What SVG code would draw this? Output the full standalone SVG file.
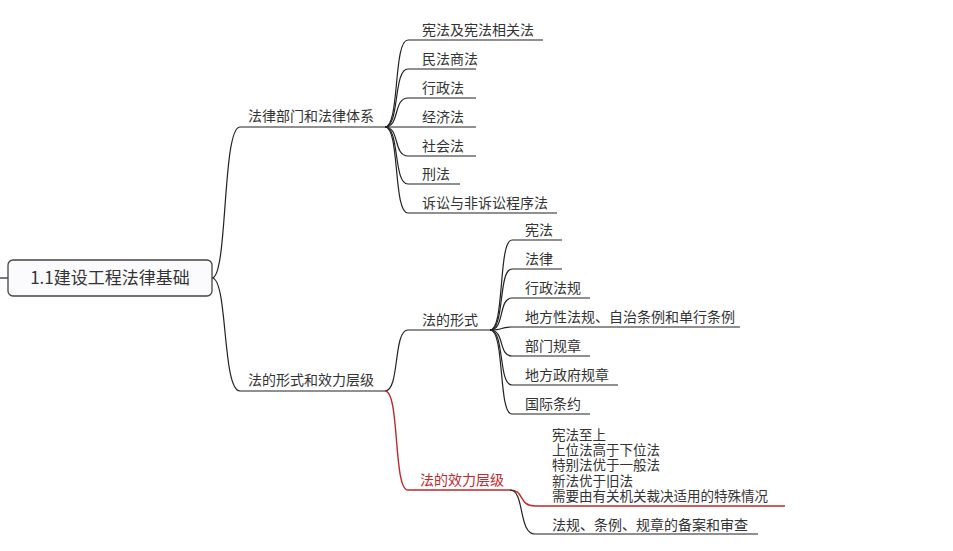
<svg xmlns="http://www.w3.org/2000/svg" width="953" height="551" viewBox="0 0 953 551">
<style>
text{font-family:"Noto Sans CJK SC","Liberation Serif",serif;font-size:14px;fill:#333}
.t{font-size:13.5px}
.c{fill:none;stroke:#222;stroke-width:1.2}
.r{fill:none;stroke:#c0282c;stroke-width:1.4}
</style>
<rect width="953" height="551" fill="#fff"/>
<g id="connectors">
<path class="c" d="M0 278H8"/>
<path class="c" d="M212 278C228 278 222 127 240 127H385"/>
<path class="c" d="M212 278C228 278 222 391 240 391H385"/>
<g id="b1">
<path class="c" d="M385 127C400 127 393 40 408 40H543"/>
<path class="c" d="M385 127C400 127 393 69 408 69H476"/>
<path class="c" d="M385 127C400 127 393 98 408 98H476"/>
<path class="c" d="M385 127H476"/>
<path class="c" d="M385 127C400 127 393 156 408 156H476"/>
<path class="c" d="M385 127C400 127 393 184 408 184H460"/>
<path class="c" d="M385 127C400 127 393 213 408 213H557"/>
</g>
<path class="c" d="M385 391C400 391 393 330 408 330H490"/>
<path class="r" d="M385 391C400 391 393 490 408 490H510"/>
<g id="b2">
<path class="c" d="M490 330C505 330 498 240 512 240H562"/>
<path class="c" d="M490 330C505 330 498 269 512 269H562"/>
<path class="c" d="M490 330C505 330 498 298 512 298H590"/>
<path class="c" d="M490 330C505 330 498 327 512 327H740"/>
<path class="c" d="M490 330C505 330 498 356 512 356H590"/>
<path class="c" d="M490 330C505 330 498 385 512 385H618"/>
<path class="c" d="M490 330C505 330 498 414 512 414H590"/>
</g>
<path class="r" d="M510 490C525 490 518 506 535 506H785"/>
<path class="c" d="M510 490C525 490 518 534 535 534H758"/>
</g>
<g id="root"><rect x="8" y="260" width="204" height="36" rx="5" fill="#fbfbfd" stroke="#444" stroke-width="1.3"/><text x="110" y="284" text-anchor="middle" style="font-size:17px">1.1建设工程法律基础</text></g>
<g id="n1"><text x="248" y="121">法律部门和法律体系</text></g>
<g id="n2"><text x="248" y="385">法的形式和效力层级</text></g>
<g id="leaves1">
<text x="422" y="35">宪法及宪法相关法</text>
<text x="422" y="64">民法商法</text>
<text x="422" y="93">行政法</text>
<text x="422" y="122">经济法</text>
<text x="422" y="151">社会法</text>
<text x="422" y="179">刑法</text>
<text x="422" y="208">诉讼与非诉讼程序法</text>
</g>
<g id="n3"><text x="422" y="325">法的形式</text></g>
<g id="n4"><text x="420" y="485" style="fill:#c0282c">法的效力层级</text></g>
<g id="leaves2">
<text x="525" y="235">宪法</text>
<text x="525" y="264">法律</text>
<text x="525" y="293">行政法规</text>
<text x="525" y="322">地方性法规、自治条例和单行条例</text>
<text x="525" y="351">部门规章</text>
<text x="525" y="380">地方政府规章</text>
<text x="525" y="409">国际条约</text>
</g>
<g id="leaves3">
<text class="t" x="552" y="440">宪法至上</text>
<text class="t" x="552" y="455">上位法高于下位法</text>
<text class="t" x="552" y="470">特别法优于一般法</text>
<text class="t" x="552" y="486">新法优于旧法</text>
<text class="t" x="552" y="501">需要由有关机关裁决适用的特殊情况</text>
<text x="552" y="530">法规、条例、规章的备案和审查</text>
</g>
</svg>
